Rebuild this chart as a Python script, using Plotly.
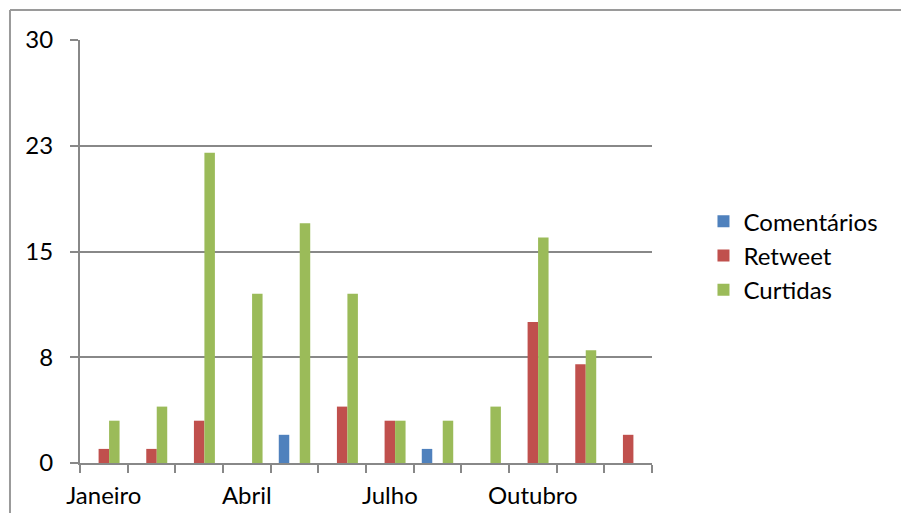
import plotly.graph_objects as go

# Monthly engagement counts
months = ["Janeiro", "Fevereiro", "Março", "Abril", "Maio", "Junho",
          "Julho", "Agosto", "Setembro", "Outubro", "Novembro", "Dezembro"]
month_labels = ["Janeiro", "", "", "Abril", "", "", "Julho", "", "", "Outubro", "", ""]

comentarios = [0, 0, 0, 0, 2, 0, 0, 1, 0, 0, 0, 0]
retweet = [1, 1, 3, 0, 0, 4, 3, 0, 0, 10, 7, 2]
curtidas = [3, 4, 22, 12, 17, 12, 3, 3, 4, 16, 8, 0]

y_ticks = [0, 7.5, 15, 22.5, 30]
y_tick_labels = ["0", "8", "15", "23", "30"]

series = [
    ("Comentários", comentarios, "#4F81BD"),
    ("Retweet", retweet, "#C0504D"),
    ("Curtidas", curtidas, "#9BBB59"),
]

FONT = "Lato, Carlito, Calibri, sans-serif"
GRID = "#888888"
FS = 24

fig = go.Figure()
for name, vals, color in series:
    fig.add_trace(go.Bar(
        x=months, y=vals, name=name,
        marker=dict(color=color, line=dict(width=0)),
    ))

fig.update_layout(
    width=901, height=513,
    margin=dict(l=80, r=249, t=40, b=50),
    paper_bgcolor="white", plot_bgcolor="white",
    barmode="group", bargap=0.34, bargroupgap=0,
    font=dict(family=FONT, size=FS, color="black"),
    showlegend=True,
    legend=dict(
        x=1.090, xanchor="left", y=0.49, yanchor="middle",
        font=dict(family=FONT, size=FS),
        itemsizing="constant", tracegroupgap=0,
        bgcolor="rgba(0,0,0,0)",
    ),
)

fig.update_xaxes(
    type="category", automargin=False,
    tickmode="array", tickvals=months, ticktext=month_labels,
    tickson="boundaries", ticks="outside", ticklen=8, tickwidth=2, tickcolor=GRID,
    showline=True, linecolor=GRID, linewidth=2,
    showgrid=False, zeroline=False,
    tickfont=dict(family=FONT, size=FS),
    tickangle=0,
    ticklabelstandoff=10,
)

fig.update_yaxes(
    range=[0, 30], automargin=False,
    tickmode="array", tickvals=y_ticks, ticktext=y_tick_labels,
    ticks="outside", ticklen=8, tickwidth=2, tickcolor=GRID,
    showline=True, linecolor=GRID, linewidth=2,
    showgrid=True, gridcolor=GRID, gridwidth=2,
    zeroline=False,
    tickfont=dict(family=FONT, size=FS),
    ticklabelstandoff=12,
)

# Chart frame (left and top edges; the rest runs past the page)
fig.add_shape(type="line", xref="paper", yref="paper",
              x0=-0.1224, x1=-0.1224, y0=1.0709, y1=-0.5,
              line=dict(color="#9A9A9A", width=2))
fig.add_shape(type="line", xref="paper", yref="paper",
              x0=-0.1224, x1=1.6, y0=1.0709, y1=1.0709,
              line=dict(color="#9A9A9A", width=2))

fig.write_html("out.html")
